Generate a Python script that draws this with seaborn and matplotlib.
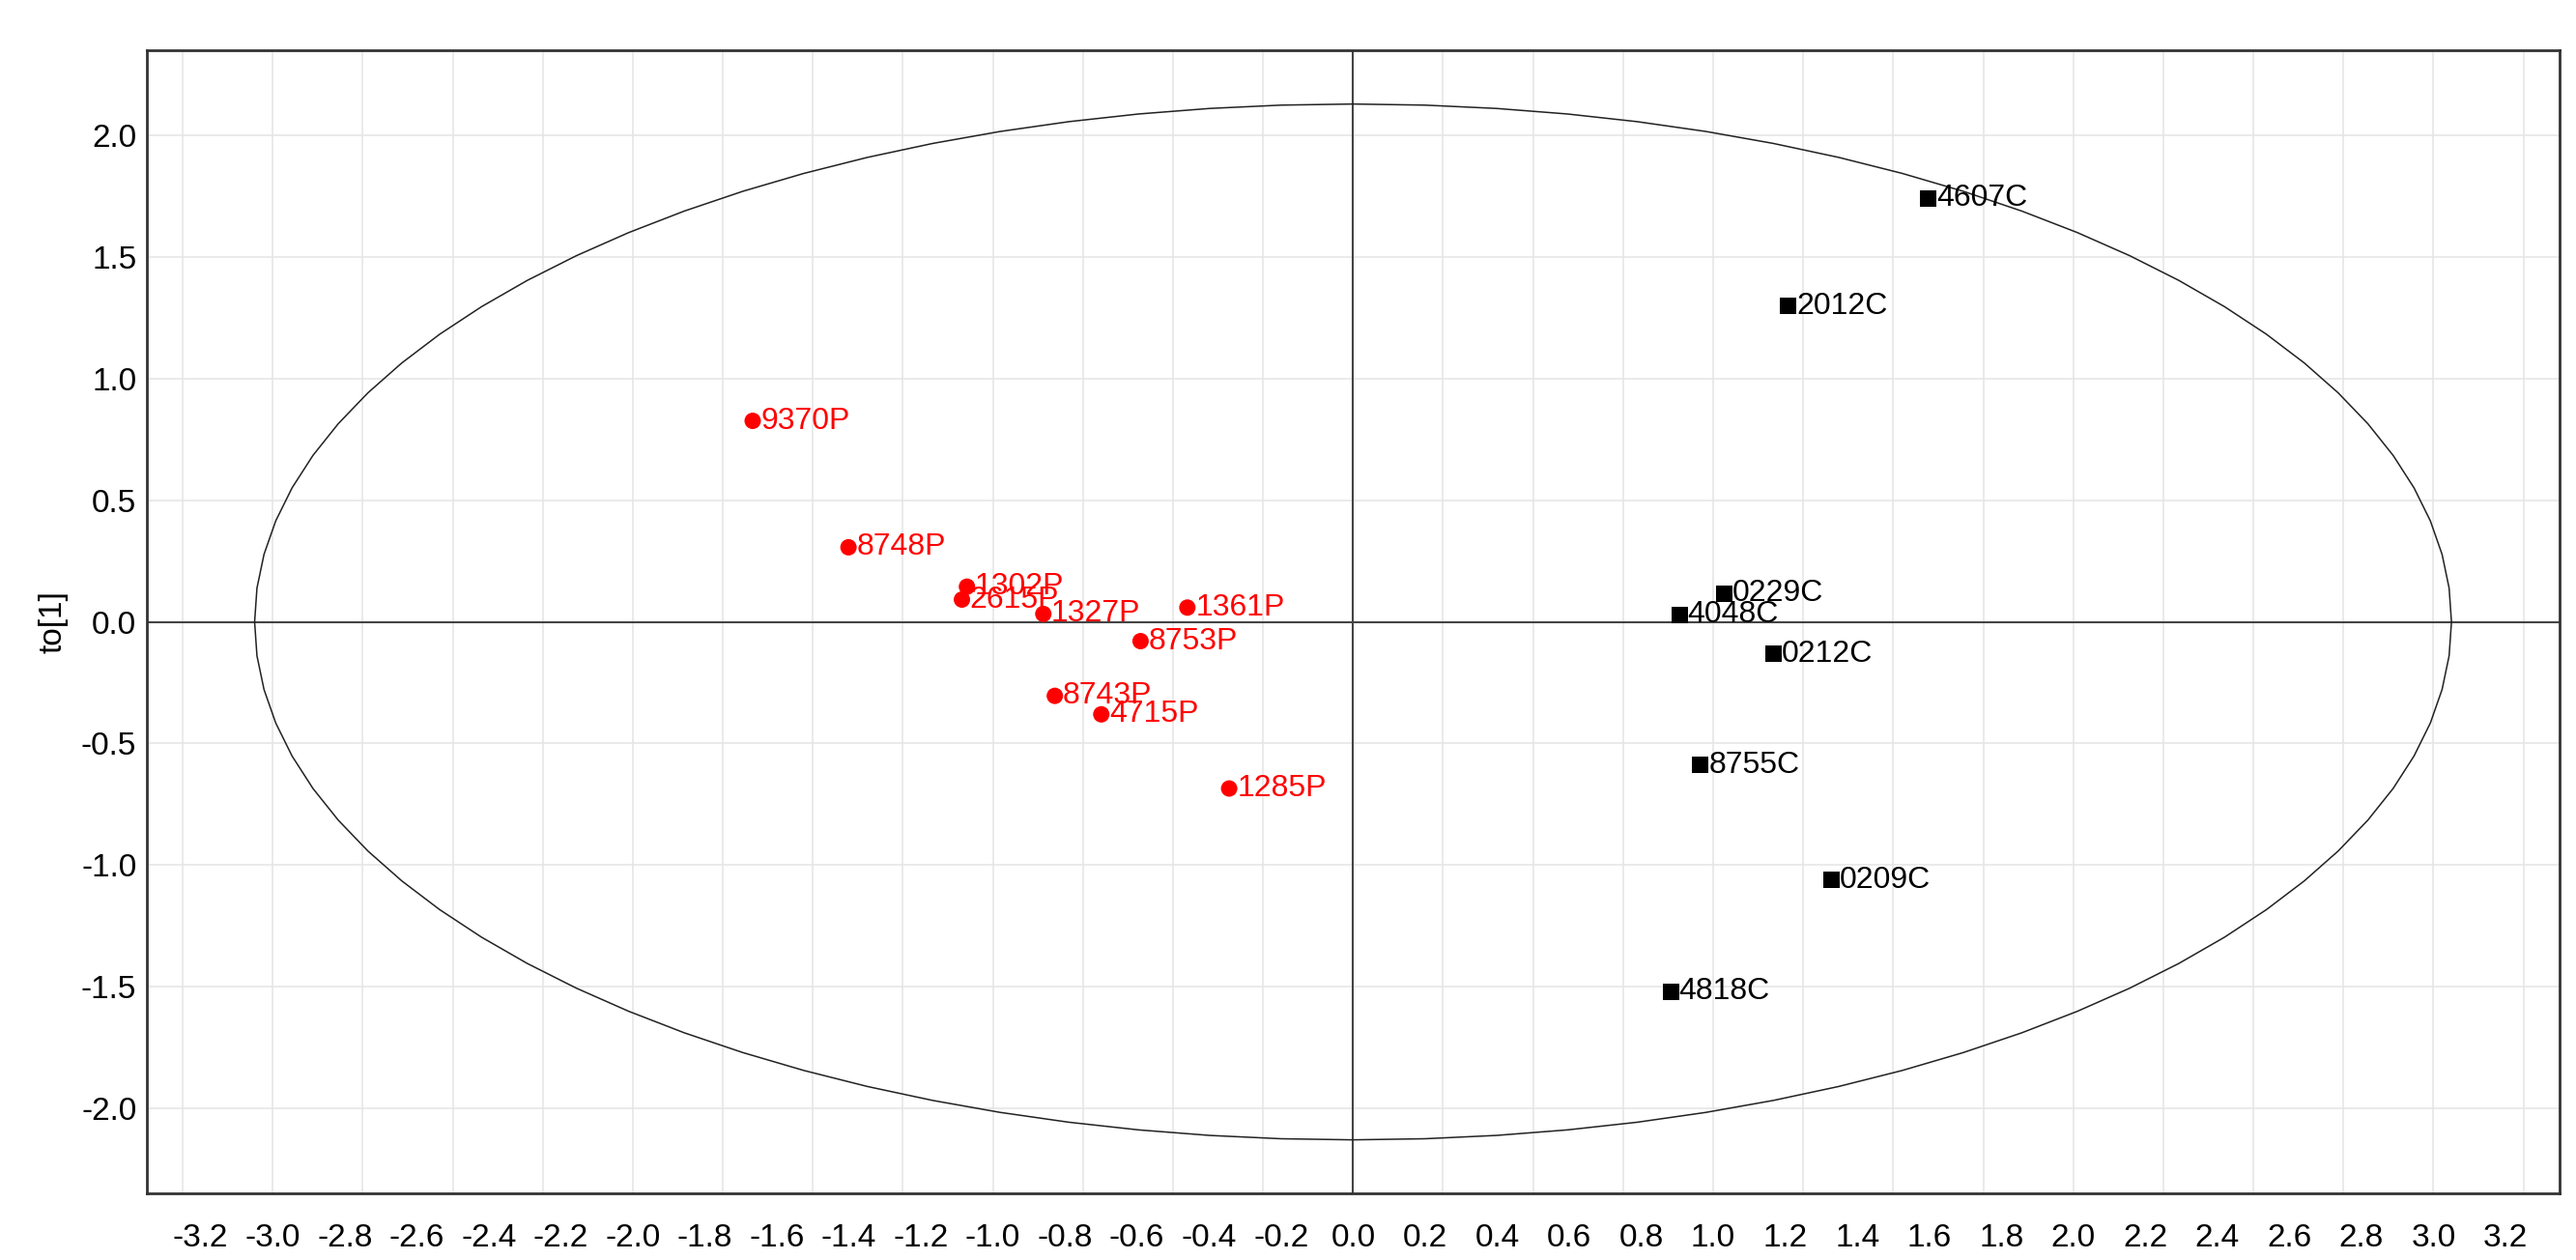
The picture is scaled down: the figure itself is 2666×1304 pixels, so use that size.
import matplotlib
matplotlib.use("Agg")
import matplotlib.pyplot as plt
import matplotlib.ticker as mticker
import numpy as np
import pandas as pd
import seaborn as sns

# scores
p_labels = ["9370P", "8748P", "1302P", "2615P", "1327P", "1361P", "8753P", "8743P", "4715P", "1285P"]
p_t1 = [-1.667, -1.401, -1.072, -1.086, -0.860, -0.460, -0.590, -0.828, -0.699, -0.344]
p_to1 = [0.827, 0.307, 0.145, 0.092, 0.033, 0.059, -0.079, -0.304, -0.380, -0.685]

c_labels = ["4607C", "2012C", "0229C", "4048C", "0212C", "8755C", "0209C", "4818C"]
c_t1 = [1.598, 1.209, 1.030, 0.907, 1.167, 0.965, 1.329, 0.882]
c_to1 = [1.743, 1.299, 0.116, 0.030, -0.132, -0.589, -1.061, -1.521]

# Hotelling T2 ellipse semi-axes
ell_a = 3.05
ell_b = 2.13


def main():
    sns.set_style("white")
    plt.rcParams["font.family"] = ["Liberation Sans Narrow", "Liberation Sans", "DejaVu Sans"]
    plt.rcParams["text.color"] = "black"
    plt.rcParams["xtick.labelcolor"] = "black"
    plt.rcParams["ytick.labelcolor"] = "black"
    plt.rcParams["axes.labelcolor"] = "black"

    df = pd.DataFrame({
        "label": p_labels + c_labels,
        "t1": p_t1 + c_t1,
        "to1": p_to1 + c_to1,
        "group": ["P"] * len(p_labels) + ["C"] * len(c_labels),
    })

    fig = plt.figure(figsize=(26.66, 13.04), dpi=100)
    ax = fig.add_axes([0.0569, 0.0529, 0.9367, 0.907])

    # grid
    for gx in np.arange(-3.25, 3.3, 0.25):
        ax.axvline(gx, color="#e6e6e6", lw=1.2, zorder=0)
    for gy in np.arange(-2.0, 2.1, 0.5):
        ax.axhline(gy, color="#e6e6e6", lw=1.2, zorder=0)

    ax.axhline(0, color="#444444", lw=1.5, zorder=1)
    ax.axvline(0, color="#444444", lw=1.5, zorder=1)

    th = np.linspace(0, 2 * np.pi, 97)
    ax.plot(ell_a * np.cos(th), ell_b * np.sin(th), color="#222222", lw=1.1, zorder=2)

    sns.scatterplot(data=df, x="t1", y="to1", hue="group", style="group",
                    palette={"P": "red", "C": "black"}, markers={"P": "o", "C": "s"},
                    s=150, linewidth=0, legend=False, ax=ax, zorder=3)

    for _, r in df.iterrows():
        col = "red" if r["group"] == "P" else "black"
        ax.annotate(r["label"], (r["t1"], r["to1"]), xytext=(6, 0), textcoords="offset points",
                    va="center", ha="left", color=col, fontsize=23, zorder=4)

    ax.set_xlim(-3.35, 3.35)
    ax.set_ylim(-2.35, 2.35)

    ax.xaxis.set_major_locator(mticker.MultipleLocator(0.2))
    ax.xaxis.set_minor_locator(mticker.MultipleLocator(0.1))
    ax.yaxis.set_major_locator(mticker.MultipleLocator(0.5))
    ax.yaxis.set_minor_locator(mticker.MultipleLocator(0.25))
    ax.xaxis.set_major_formatter(mticker.FormatStrFormatter("%.1f"))
    ax.yaxis.set_major_formatter(mticker.FormatStrFormatter("%.1f"))

    ax.tick_params(axis="x", which="both", direction="inout", length=11, width=1.2,
                   color="#333333", labelsize=24, pad=17)
    ax.tick_params(axis="y", which="both", direction="inout", length=9, width=1.2,
                   color="#333333", labelsize=24, pad=3)
    ax.tick_params(axis="both", which="minor", labelleft=False, labelbottom=False)

    for sp in ax.spines.values():
        sp.set_color("#333333")
        sp.set_linewidth(2)

    ax.set_xlabel("")
    ax.set_ylabel("to[1]", fontsize=24, labelpad=10)

    fig.savefig("out.png", dpi=100)


if __name__ == "__main__":
    main()
